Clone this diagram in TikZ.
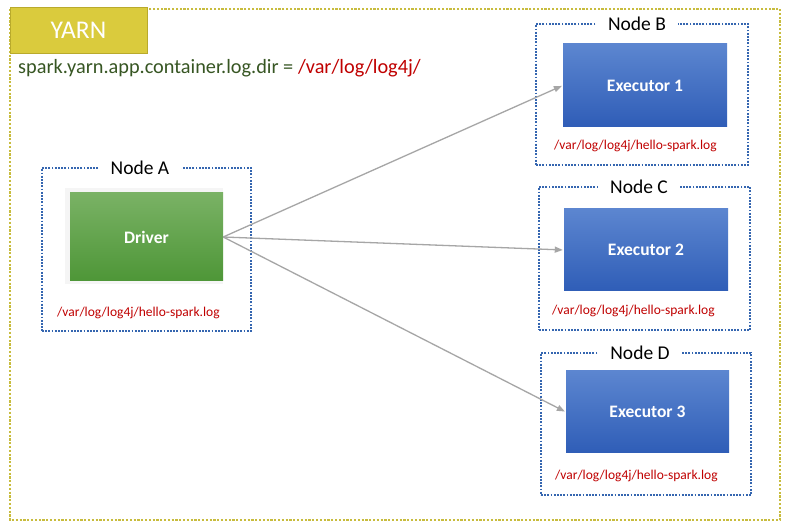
\documentclass[tikz,border=0pt]{standalone}
\usepackage{fontspec}
\setmainfont{Carlito}
\usetikzlibrary{arrows.meta}
\definecolor{yarnline}{HTML}{C8BC3E}
\definecolor{yarnfill}{HTML}{DACB3D}
\definecolor{yarnedge}{HTML}{B9AA2C}
\definecolor{frameblue}{HTML}{3566B0}
\definecolor{exectop}{HTML}{5C86D0}
\definecolor{execbot}{HTML}{2F5DB7}
\definecolor{drvtop}{HTML}{7AB265}
\definecolor{drvbot}{HTML}{4E9637}
\definecolor{logred}{HTML}{C00000}
\definecolor{darkgreen}{HTML}{375623}
\definecolor{arrowgray}{HTML}{A6A6A6}
\tikzset{
  yarnframe/.style={draw=yarnline, line width=2.2pt, dash pattern=on 2.2pt off 1.6pt},
  hostframe/.style={draw=frameblue, line width=1.8pt, dash pattern=on 1.8pt off 1.4pt, rectangle, inner sep=0pt},
  hostlabel/.style={fill=white, inner xsep=12pt, inner ysep=1pt, font=\fontsize{19.5}{22}\selectfont, text=black},
  execbox/.style={rectangle, top color=exectop, bottom color=execbot, draw=none, text=white, font=\fontsize{17.5}{20}\selectfont\bfseries},
  drvbox/.style={rectangle, top color=drvtop, bottom color=drvbot, draw=none, text=white, font=\fontsize{17.5}{20}\selectfont\bfseries},
  logtext/.style={anchor=west, text=logred, font=\fontsize{13.5}{16}\selectfont, inner sep=0pt},
  conn/.style={draw=arrowgray, line width=1.3pt, -{Triangle[length=8pt,width=6pt]}, shorten >=1pt}
}
\begin{document}
\begin{tikzpicture}[x=1pt,y=-1pt]
\useasboundingbox (0,0) rectangle (801,526);
\fill[white] (0,0) rectangle (801,526);
% YARN frame
\draw[yarnframe] (10,9) rectangle (780,520);
\node[rectangle, fill=yarnfill, draw=yarnedge, line width=0.6pt, minimum width=137pt, minimum height=46pt, text=white, font=\fontsize{25.5}{28}\selectfont] (yarn) at (78.5,30) {YARN};
\node[anchor=base west, inner sep=0pt, font=\fontsize{20.3}{23}\selectfont] (conf) at (18,74) {\textcolor{darkgreen}{spark.yarn.app.container.log.dir =} \textcolor{logred}{/var/log/log4j/}};
% host frames
\node[hostframe, minimum width=209pt, minimum height=163pt] (hostA) at (146.5,249.5) {};
\node[hostframe, minimum width=212pt, minimum height=141pt] (hostB) at (642,94.5) {};
\node[hostframe, minimum width=211pt, minimum height=143pt] (hostC) at (644.5,258.5) {};
\node[hostframe, minimum width=210pt, minimum height=142pt] (hostD) at (646,424) {};
\node[hostlabel] (labA) at (140,168) {Node A};
\node[hostlabel] (labB) at (637,24) {Node B};
\node[hostlabel] (labC) at (639,187) {Node C};
\node[hostlabel] (labD) at (640,353) {Node D};
% driver with soft shadow
\fill[black!8] (67,190) rectangle (223,283);
\fill[black!4] (65,188) rectangle (223,284);
\node[drvbox, minimum width=153pt, minimum height=88pt] (driver) at (146.5,237) {Driver};
% executors
\node[execbox, minimum width=164pt, minimum height=83pt] (exec1) at (645,85.5) {Executor 1};
\node[execbox, minimum width=164pt, minimum height=82pt] (exec2) at (646,250) {Executor 2};
\node[execbox, minimum width=163pt, minimum height=82pt] (exec3) at (647.5,412) {Executor 3};
% logs
\node[logtext] (logA) at (57,313) {/var/log/log4j/hello-spark.log};
\node[logtext] (logB) at (554,146) {/var/log/log4j/hello-spark.log};
\node[logtext] (logC) at (552,311) {/var/log/log4j/hello-spark.log};
\node[logtext] (logD) at (555,476) {/var/log/log4j/hello-spark.log};
% connectors
\draw[conn] (driver.east) -- (exec1.west);
\draw[conn] (driver.east) -- (exec2.west);
\draw[conn] (driver.east) -- (exec3.west);
\end{tikzpicture}
\end{document}
